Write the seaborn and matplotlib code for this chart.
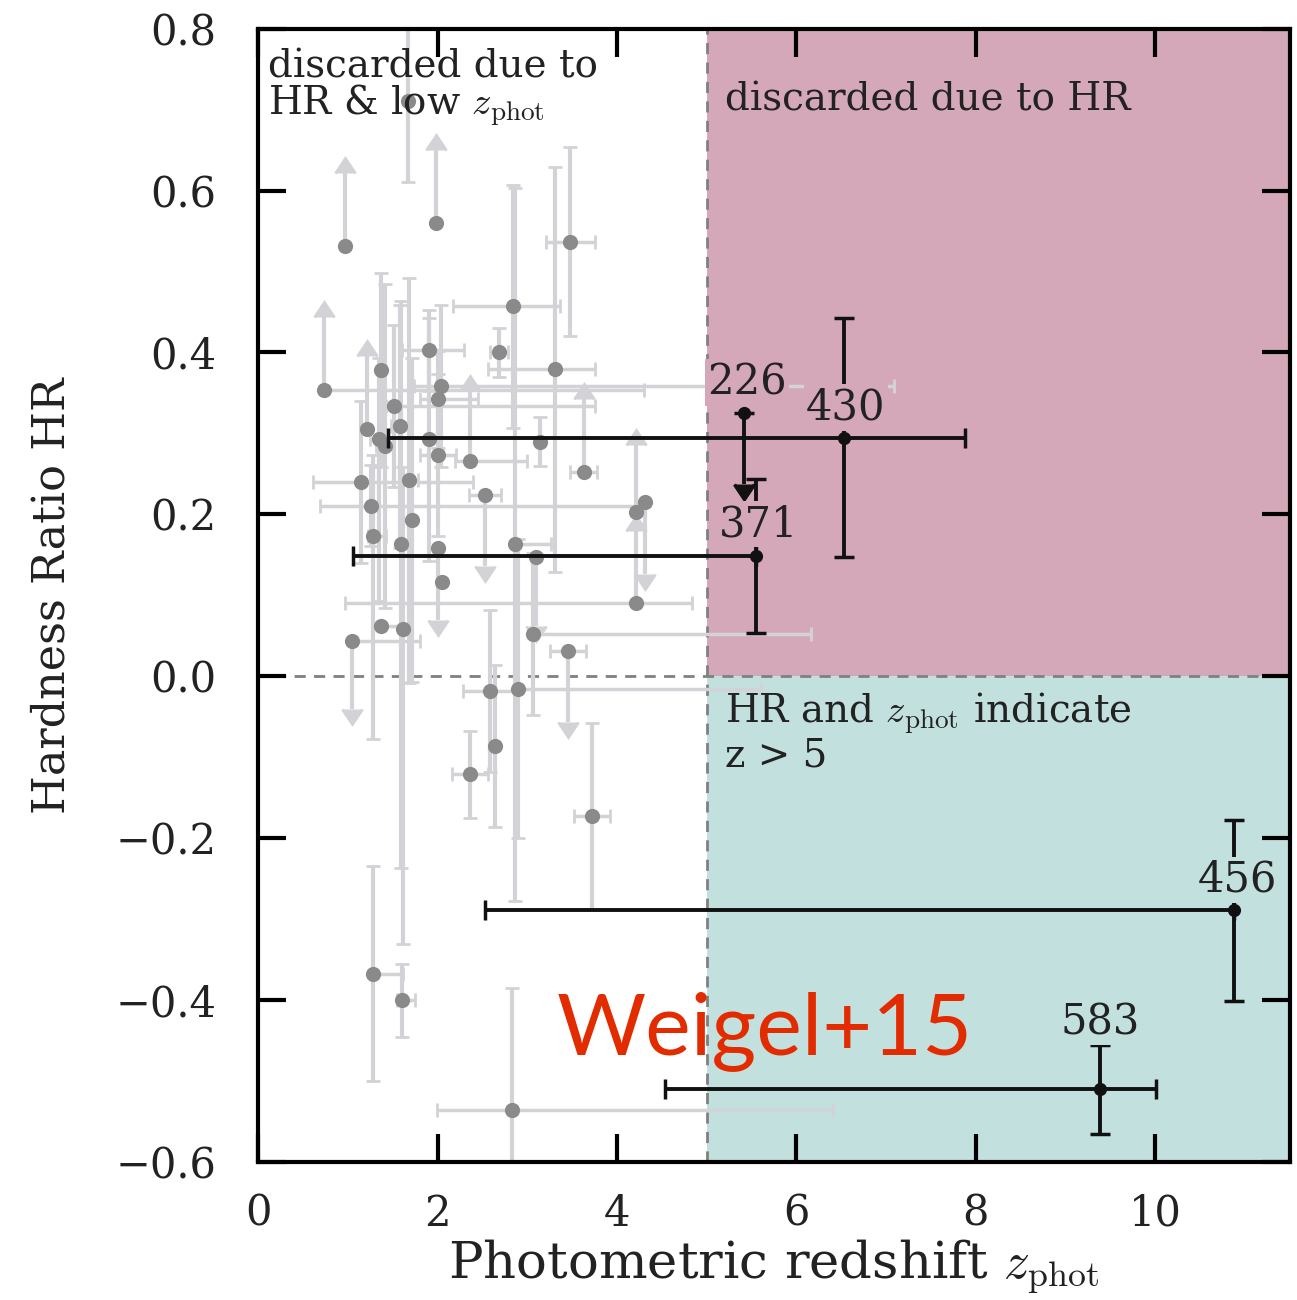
import numpy as np
import pandas as pd
import matplotlib
matplotlib.use("Agg")
import matplotlib.pyplot as plt
import seaborn as sns

# ---------------- data ----------------
# grey comparison sample: z_phot, HR, asymmetric errors, limit flag
# lim: 1 = lower limit (arrow up), -1 = upper limit (arrow down), 0 = none
g_z    = [0.97, 1.98, 1.67, 3.48, 2.84, 1.90, 2.68, 3.31, 1.37, 0.73,
          2.04, 2.01, 1.52, 1.21, 1.58, 1.35, 1.41, 1.90, 3.14, 2.01,
          2.36, 3.63, 1.15, 1.68, 2.53, 1.26, 4.31, 4.21, 1.72, 1.28,
          1.59, 2.01, 2.86, 2.05, 4.21, 3.06, 3.10, 3.45, 1.37, 1.62,
          1.05, 2.58, 2.90, 2.64, 2.36, 3.72, 1.28, 1.60, 2.83]
g_hr   = [0.532, 0.560, 0.710, 0.537, 0.457, 0.403, 0.400, 0.379, 0.378, 0.354,
          0.359, 0.342, 0.334, 0.306, 0.309, 0.293, 0.284, 0.293, 0.290, 0.273,
          0.266, 0.253, 0.240, 0.242, 0.224, 0.211, 0.215, 0.203, 0.193, 0.173,
          0.163, 0.158, 0.163, 0.116, 0.090, 0.052, 0.147, 0.031, 0.062, 0.059,
          0.044, -0.018, -0.015, -0.086, -0.121, -0.172, -0.367, -0.400, -0.535]
g_zlo  = [0.00, 0.00, 0.00, 0.27, 0.67, 0.30, 0.10, 0.75, 0.00, 0.00,
          0.30, 0.20, 0.10, 0.00, 0.10, 0.10, 0.10, 0.00, 0.00, 0.20,
          0.17, 0.15, 0.54, 0.10, 0.18, 0.57, 0.00, 0.00, 0.00, 0.05,
          0.00, 0.00, 0.00, 0.00, 3.24, 0.00, 0.00, 0.20, 0.00, 0.00,
          0.00, 0.30, 0.00, 0.00, 0.20, 0.20, 0.00, 0.05, 0.84]
g_zhi  = [0.00, 0.00, 0.00, 0.27, 0.52, 0.40, 0.10, 0.44, 0.00, 3.57,
          5.05, 0.44, 2.23, 0.00, 0.10, 0.10, 0.10, 0.00, 0.00, 0.20,
          0.64, 0.15, 1.24, 0.10, 0.18, 2.97, 0.00, 0.00, 0.00, 0.15,
          0.00, 0.00, 0.40, 0.00, 0.63, 3.10, 0.00, 0.20, 0.30, 0.00,
          0.76, 0.30, 2.70, 0.00, 0.20, 0.20, 0.33, 0.15, 3.58]
g_hrlo = [0.000, 0.000, 0.100, 0.117, 0.150, 0.050, 0.030, 0.250, 0.120, 0.000,
          0.100, 0.060, 0.100, 0.000, 0.150, 0.200, 0.200, 0.150, 0.030, 0.100,
          0.000, 0.000, 0.100, 0.250, 0.088, 0.050, 0.089, 0.000, 0.200, 0.250,
          0.400, 0.088, 0.440, 0.000, 0.000, 0.100, 0.085, 0.087, 0.000, 0.390,
          0.084, 0.100, 0.185, 0.100, 0.054, 0.115, 0.133, 0.045, 0.150]
g_hrhi = [0.090, 0.090, 0.150, 0.117, 0.150, 0.050, 0.030, 0.250, 0.120, 0.090,
          0.100, 0.060, 0.100, 0.090, 0.150, 0.100, 0.200, 0.150, 0.030, 0.100,
          0.086, 0.090, 0.100, 0.250, 0.000, 0.050, 0.000, 0.083, 0.200, 0.100,
          0.300, 0.000, 0.440, 0.000, 0.090, 0.100, 0.000, 0.000, 0.000, 0.200,
          0.000, 0.100, 0.185, 0.100, 0.054, 0.115, 0.133, 0.045, 0.150]
g_lim  = [1, 1, 0, 0, 0, 0, 0, 0, 0, 1,
          0, 0, 0, 1, 0, 0, 0, 0, 0, 0,
          1, 1, 0, 0, -1, 0, -1, 1, 0, 0,
          0, -1, 0, 0, 1, 0, -1, -1, 0, 0,
          -1, 0, 0, 0, 0, 0, 0, 0, 0]

# highlighted high-z candidates
b_id   = ["226", "430", "371", "456", "583"]
b_z    = [5.42, 6.53, 5.55, 10.88, 9.38]
b_hr   = [0.325, 0.295, 0.149, -0.289, -0.510]
b_zlo  = [0.00, 5.08, 4.49, 8.35, 4.85]
b_zhi  = [0.00, 1.35, 0.00, 0.00, 0.63]
b_hrlo = [0.088, 0.147, 0.095, 0.112, 0.055]
b_hrhi = [0.000, 0.147, 0.095, 0.112, 0.055]
b_lim  = [-1, 0, 0, 0, 0]
b_lab_z  = [5.45, 6.55, 5.58, 10.92, 9.39]
b_lab_hr = [0.363, 0.332, 0.188, -0.251, -0.427]

x_ticks = [0, 2, 4, 6, 8, 10]
y_ticks = [-0.6, -0.4, -0.2, 0.0, 0.2, 0.4, 0.6, 0.8]

# ---------------- style ----------------
sns.set_theme(style="ticks")
plt.rcParams["font.family"] = ["DejaVu Serif"]
plt.rcParams["mathtext.fontset"] = "cm"
plt.rcParams["axes.linewidth"] = 3

PINK = "#d4a8b8"
TEAL = "#c2e0de"
GREYBAR = "#d3d3d7"
GREYDOT = "#8a8a8a"
BLACK = "#111111"
TXT = "#222222"

fig = plt.figure(figsize=(12.97, 13.0), dpi=100)
ax = fig.add_axes([0.199, 0.106, 0.7955, 0.872])
ax.set_xlim(0, 11.5)
ax.set_ylim(-0.6, 0.8)

# shaded regions
ax.fill_between([5, 11.5], 0, 0.8, color=PINK, lw=0, zorder=0)
ax.fill_between([5, 11.5], -0.6, 0, color=TEAL, lw=0, zorder=0)
ax.axvline(5, color="#808080", ls=(0, (4, 3)), lw=2, zorder=0.5)
ax.axhline(0, color="#808080", ls=(1, (4, 3)), lw=2, zorder=0.5)

g = pd.DataFrame(dict(z=g_z, hr=g_hr, zlo=g_zlo, zhi=g_zhi,
                      hrlo=g_hrlo, hrhi=g_hrhi, lim=g_lim))
# grey y errors: two-sided
gy = g[((g.hrlo + g.hrhi) > 0) & (g.lim == 0)]
ax.errorbar(gy.z, gy.hr, yerr=[gy.hrlo, gy.hrhi], fmt="none",
            ecolor=GREYBAR, color=GREYBAR, elinewidth=3, capsize=5,
            capthick=2, zorder=1)
# grey limits (arrows) - keep only the arrow heads, no flat cap at the point
gl = g[g.lim != 0]
eb = ax.errorbar(gl.z, gl.hr, yerr=[gl.hrlo, gl.hrhi], fmt="none",
                 ecolor=GREYBAR, color=GREYBAR, elinewidth=3, capsize=7,
                 capthick=2, lolims=(gl.lim == 1).values,
                 uplims=(gl.lim == -1).values, zorder=1)
for cl in eb.lines[1]:
    if cl.get_marker() in ("_", "|"):
        cl.set_visible(False)
# grey x errors
gx = g[(g.zlo + g.zhi) > 0]
ax.errorbar(gx.z, gx.hr, xerr=[gx.zlo, gx.zhi], fmt="none",
            ecolor=GREYBAR, color=GREYBAR, elinewidth=2.5, capsize=5,
            capthick=2, zorder=1)
sns.scatterplot(data=g, x="z", y="hr", color=GREYDOT, s=120, linewidth=0,
                ax=ax, zorder=2, legend=False)

# black candidates
b = pd.DataFrame(dict(id=b_id, z=b_z, hr=b_hr, zlo=b_zlo, zhi=b_zhi,
                      hrlo=b_hrlo, hrhi=b_hrhi, lim=b_lim,
                      lz=b_lab_z, lhr=b_lab_hr))
ax.errorbar(b.z, b.hr, yerr=[b.hrlo, b.hrhi], fmt="none", ecolor=BLACK,
            color=BLACK, elinewidth=2.8, capsize=7, capthick=2.5,
            uplims=(b.lim == -1).values, zorder=3)
bx = b[(b.zlo + b.zhi) > 0]
ax.errorbar(bx.z, bx.hr, xerr=[bx.zlo, bx.zhi], fmt="none", ecolor=BLACK,
            color=BLACK, elinewidth=2.8, capsize=7, capthick=2.5, zorder=3)
sns.scatterplot(data=b, x="z", y="hr", color=BLACK, s=90, linewidth=0,
                ax=ax, zorder=4, legend=False)
for _, r in b.iterrows():
    bg = PINK if r.hr > 0 else TEAL
    ax.text(r.lz, r.lhr, r.id, ha="center", va="center", fontsize=30,
            color=TXT, zorder=5,
            bbox=dict(boxstyle="square,pad=0.05", fc=bg, ec="none"))

# region annotations
ax.text(0.11, 0.776, "discarded due to\nHR & low $z_{\\rm phot}$", ha="left",
        va="top", fontsize=28, color=TXT, linespacing=0.95, zorder=6)
ax.text(5.2, 0.712, "discarded due to HR", ha="left", va="center",
        fontsize=28, color=TXT, zorder=6)
ax.text(5.2, -0.018, "HR and $z_{\\rm phot}$ indicate\nz > 5", ha="left",
        va="top", fontsize=28, color=TXT, linespacing=1.05, zorder=6)
ax.text(3.33, -0.467, "Weigel+15", ha="left", va="baseline", fontsize=62,
        color="#e32b00", family=["Lato", "DejaVu Sans"], zorder=7)

# axes
ax.set_xticks(x_ticks)
ax.set_yticks(y_ticks)
ax.tick_params(axis="both", which="major", direction="in", length=20,
               width=3, top=True, right=True, labelsize=30, color="black",
               labelcolor=TXT)
ax.tick_params(axis="y", pad=30)
ax.tick_params(axis="x", pad=22)
for s in ax.spines.values():
    s.set_zorder(10)
    s.set_color("black")
ax.set_xlabel("Photometric redshift $z_{\\rm phot}$", fontsize=37,
              color=TXT, labelpad=2)
ax.set_ylabel("Hardness Ratio HR", fontsize=32, color=TXT, labelpad=30)

fig.savefig("out.png", dpi=100)
